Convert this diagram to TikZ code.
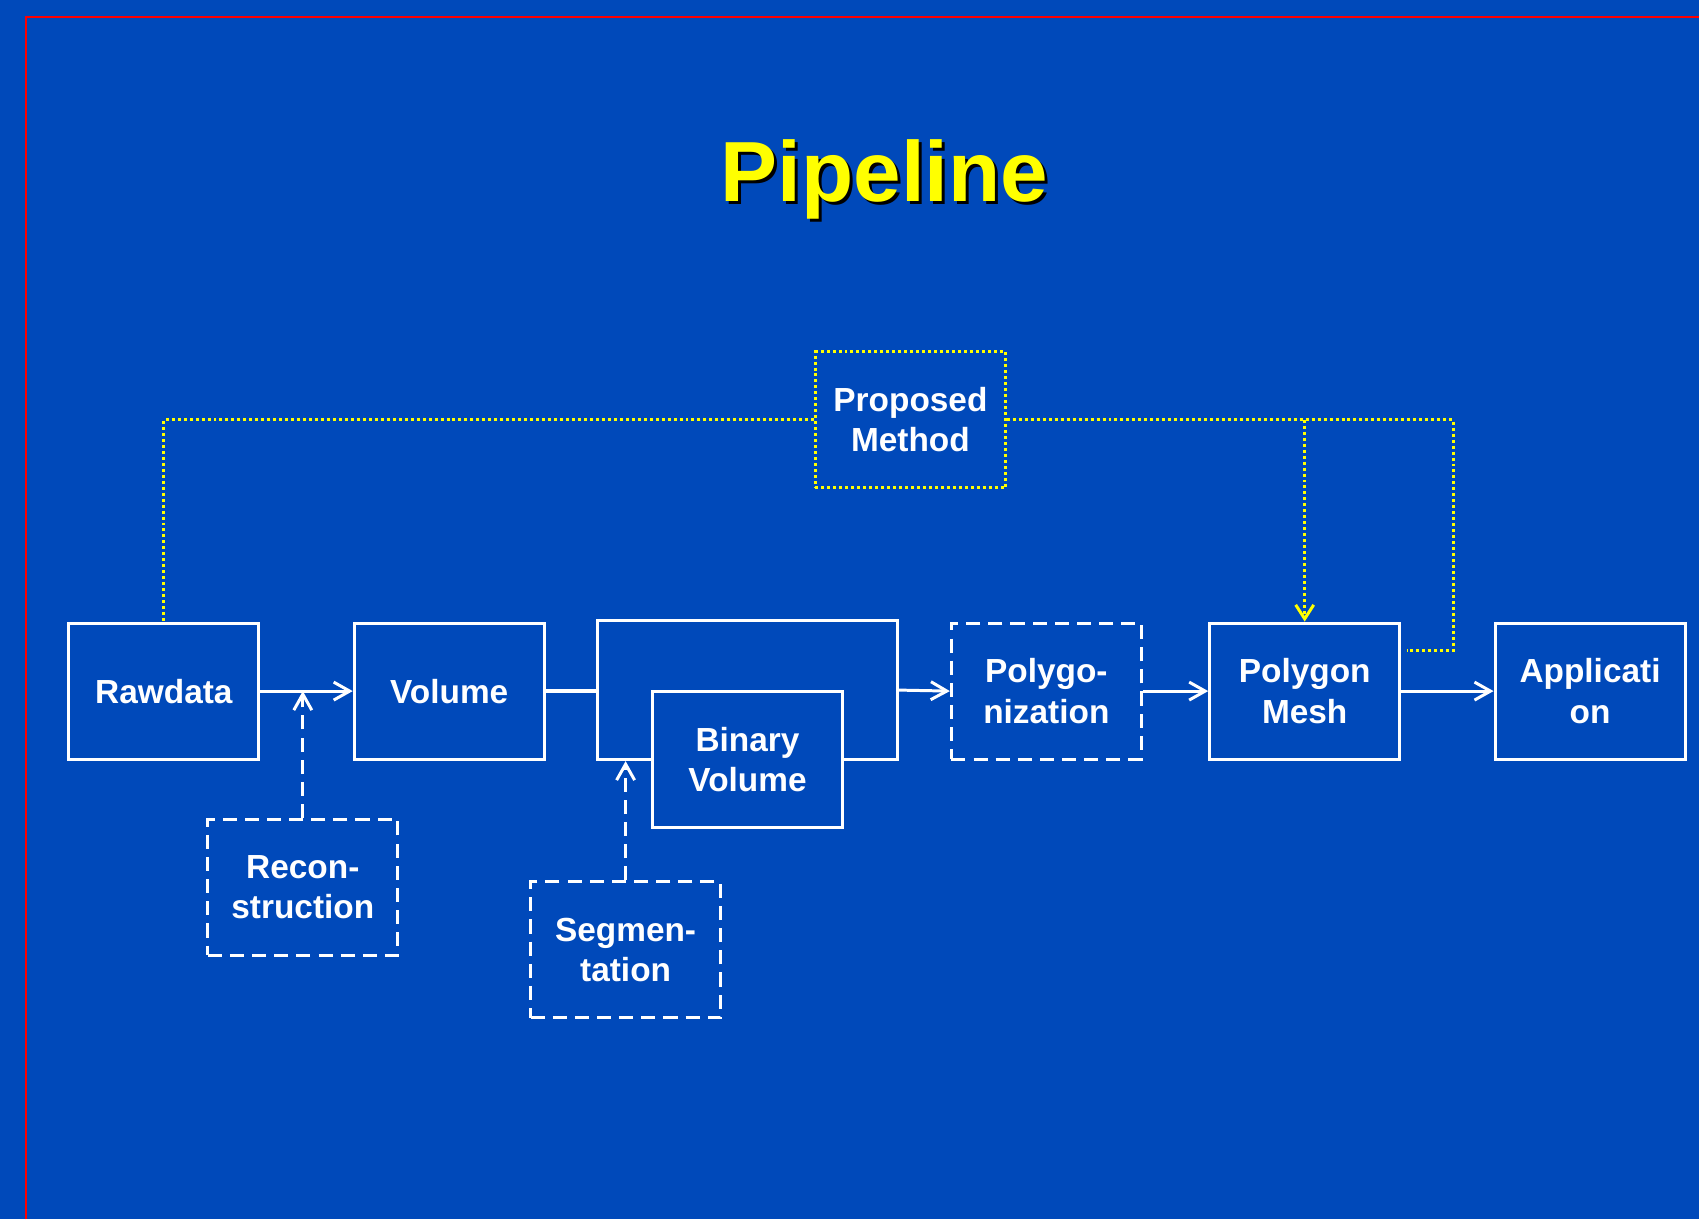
\documentclass[tikz,border=0pt]{standalone}
\usepackage{fontspec}
\setmainfont{Liberation Sans}
\usetikzlibrary{arrows.meta}

\definecolor{folienblau}{HTML}{0049BA}
\definecolor{gelb}{HTML}{FFFF00}

\begin{document}
\begin{tikzpicture}[x=0.01cm, y=-0.01cm,
  kasten/.style={draw=white, line width=0.85pt, fill=folienblau, text=white,
    minimum width=1.9cm, minimum height=1.36cm, inner sep=0pt, align=center,
    font=\fontsize{9.5}{11.4}\selectfont\bfseries},
  strichkasten/.style={kasten, dash pattern=on 4pt off 2.3pt},
  punktkasten/.style={kasten, draw=gelb, dash pattern=on 0.85pt off 0.85pt},
  weiss/.style={white, line width=0.85pt},
  pfeil/.style={weiss, -{Straight Barb[length=0.16cm, width=0.18cm]}},
  gelbpunkt/.style={gelb, line width=0.85pt, dash pattern=on 0.85pt off 0.85pt}]

  \fill[folienblau] (0,0) rectangle (1700,1220);  %Hintergrund
  \draw[red, line width=0.6pt] (26,1220) -- (26,17) -- (1700,17);  %roter Rand

  \node[text=black, anchor=base, font=\fontsize{24.3}{29}\selectfont\bfseries] (schatten) at (888,205) {Pipeline};  %Schatten
  \node[text=gelb, anchor=base, font=\fontsize{24.3}{29}\selectfont\bfseries] (titel) at (885,202) {Pipeline};  %Überschrift

  \node[kasten] (raw) at (164,691.5) {Rawdata};
  \node[kasten] (vol) at (449.5,691.5) {Volume};
  \node[kasten, minimum width=3cm, minimum height=1.39cm] (binout) at (748,690.5) {};  %äußerer Kasten
  \node[kasten] (bin) at (748,760) {Binary\\Volume};
  \node[strichkasten] (poly) at (1047,691.5) {Polygo-\\nization};
  \node[kasten] (mesh) at (1305.5,691.5) {Polygon\\Mesh};
  \node[kasten] (app) at (1591,691.5) {Applicati\\on};

  \node[strichkasten] (recon) at (303,888) {Recon-\\struction};
  \node[strichkasten] (seg) at (626,950.5) {Segmen-\\tation};
  \node[punktkasten] (prop) at (911,420) {Proposed\\Method};

  \foreach \von/\nach in {raw/vol, binout/poly, poly/mesh, mesh/app}  %Hauptkette
    \draw[pfeil] (\von.east) -- (\nach.west);
  \draw[weiss, line width=1.3pt] (vol.east) -- (vol.east -| binout.west);  %ohne Pfeil

  \draw[pfeil, dash pattern=on 4pt off 2.3pt] (recon.north) -- (recon.north |- raw.east);
  \draw[pfeil, dash pattern=on 4pt off 2.3pt] (seg.north) -- (seg.north |- binout.south);

  \coordinate (ecke) at (1454,420);  %rechte obere Ecke
  \coordinate (ende) at (1408,651);  %Ende neben Polygon Mesh
  \draw[gelbpunkt] (prop.west) -- (raw.north |- prop.west) -- (raw.north);
  \draw[gelbpunkt] (prop.east) -- (ecke) -- (ecke |- ende) -- (ende);
  \draw[gelbpunkt, -{Straight Barb[length=0.14cm, width=0.18cm]}] (mesh.north |- prop.east) -- (mesh.north);
\end{tikzpicture}
\end{document}
